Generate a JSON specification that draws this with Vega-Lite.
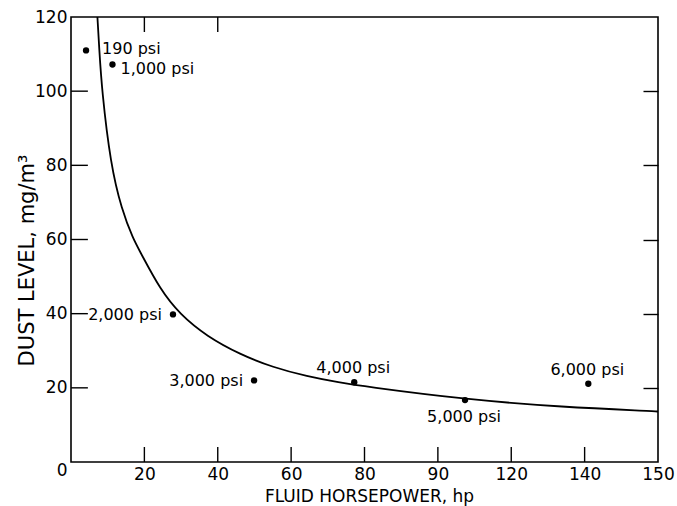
{
  "$schema": "https://vega.github.io/schema/vega-lite/v6.json",
  "autosize": {"type": "none"},
  "padding": {"left": 71, "top": 17, "right": 19, "bottom": 44},
  "width": 587,
  "height": 445,
  "background": "white",
  "config": {
    "view": {"stroke": "black", "strokeWidth": 1.6},
    "font": "DejaVu Sans",
    "axis": {"domain": false, "grid": false, "labelColor": "black", "titleColor": "black", "labelFont": "DejaVu Sans", "titleFont": "DejaVu Sans", "titleFontWeight": "normal"}
  },
  "datasets": {
    "curve": [
      {"hp": 7.2, "dust": 120},
      {"hp": 7.7, "dust": 111.4},
      {"hp": 8.4, "dust": 100.4},
      {"hp": 10.8, "dust": 80.2},
      {"hp": 13.8, "dust": 68.1},
      {"hp": 17.0, "dust": 60.0},
      {"hp": 18.8, "dust": 56.8},
      {"hp": 24.3, "dust": 46.5},
      {"hp": 29.7, "dust": 39.8},
      {"hp": 37.0, "dust": 33.9},
      {"hp": 46.1, "dust": 29.0},
      {"hp": 55.1, "dust": 25.5},
      {"hp": 64.3, "dust": 23.1},
      {"hp": 73.3, "dust": 21.4},
      {"hp": 79.7, "dust": 20.4},
      {"hp": 107.0, "dust": 16.9},
      {"hp": 134.2, "dust": 14.8},
      {"hp": 158.8, "dust": 13.7},
      {"hp": 160, "dust": 13.6}
    ],
    "points": [
      {"hp": 4.1, "dust": 111.0, "label": "190 psi"},
      {"hp": 11.3, "dust": 107.2, "label": "1,000 psi"},
      {"hp": 27.8, "dust": 39.8, "label": "2,000 psi"},
      {"hp": 49.9, "dust": 22.0, "label": "3,000 psi"},
      {"hp": 77.2, "dust": 21.5, "label": "4,000 psi"},
      {"hp": 107.4, "dust": 16.7, "label": "5,000 psi"},
      {"hp": 141.0, "dust": 21.1, "label": "6,000 psi"}
    ],
    "xticks": [{"hp": 20}, {"hp": 40}, {"hp": 60}, {"hp": 80}, {"hp": 100}, {"hp": 120}, {"hp": 140}],
    "topticks": [{"hp": 20}, {"hp": 40}],
    "yticks": [{"dust": 20}, {"dust": 40}, {"dust": 60}, {"dust": 80}, {"dust": 100}]
  },
  "layer": [
    {
      "data": {"name": "curve"},
      "mark": {"type": "line", "color": "black", "strokeWidth": 1.8, "interpolate": "basis", "clip": true},
      "encoding": {
        "x": {"field": "hp", "type": "quantitative", "scale": {"domain": [0, 160], "nice": false, "zero": false},
          "axis": {"orient": "bottom", "values": [20, 40, 60, 80, 100, 120, 140, 160], "ticks": false, "labelPadding": 4, "labelFontSize": 17, "labelFlush": false,
            "labelExpr": "datum.value == 100 ? '90' : datum.value == 160 ? '150' : datum.label",
            "title": "FLUID HORSEPOWER, hp", "titleFontSize": 17, "titleX": 298, "titleY": 34, "titleBaseline": "middle", "titleAnchor": "middle"}},
        "y": {"field": "dust", "type": "quantitative", "scale": {"domain": [0, 120], "nice": false},
          "axis": {"orient": "left", "values": [0, 20, 40, 60, 80, 100, 120], "ticks": false, "labelPadding": 4, "labelFontSize": 17, "labelFlush": false,
            "labelOffset": {"condition": {"test": "datum.value === 0", "value": 8}, "value": 0},
            "title": "DUST LEVEL,  mg/m³", "titleFontSize": 21, "titleX": -44, "titleY": 243, "titleBaseline": "middle", "titleAngle": -90, "titleAnchor": "middle"}}
      }
    },
    {
      "data": {"name": "points"},
      "mark": {"type": "circle", "color": "black", "opacity": 1, "size": 40},
      "encoding": {
        "x": {"field": "hp", "type": "quantitative", "axis": null},
        "y": {"field": "dust", "type": "quantitative",
          "axis": {"orient": "right", "values": [20, 40, 60, 80, 100], "ticks": true, "tickSize": -15, "tickColor": "black", "tickWidth": 1.4, "labels": false, "title": null}}
      }
    },
    {
      "data": {"name": "xticks"},
      "mark": {"type": "rule", "color": "black", "strokeWidth": 1.4},
      "encoding": {
        "x": {"field": "hp", "type": "quantitative", "axis": null},
        "y": {"datum": 0, "type": "quantitative", "axis": null},
        "y2": {"datum": 4.05}
      }
    },
    {
      "data": {"name": "topticks"},
      "mark": {"type": "rule", "color": "black", "strokeWidth": 1.4},
      "encoding": {
        "x": {"field": "hp", "type": "quantitative", "axis": null},
        "y": {"datum": 120, "type": "quantitative", "axis": null},
        "y2": {"datum": 115.95}
      }
    },
    {
      "data": {"name": "yticks"},
      "mark": {"type": "rule", "color": "black", "strokeWidth": 1.4},
      "encoding": {
        "y": {"field": "dust", "type": "quantitative", "axis": null},
        "x": {"datum": 0, "type": "quantitative", "axis": null},
        "x2": {"datum": 4.6}
      }
    },
    {
      "data": {"name": "points"},
      "transform": [{"filter": {"field": "label", "equal": "190 psi"}}],
      "mark": {"type": "text", "align": "left", "baseline": "middle", "dx": 16, "dy": -1, "fontSize": 16, "color": "black"},
      "encoding": {"x": {"field": "hp", "type": "quantitative", "axis": null}, "y": {"field": "dust", "type": "quantitative", "axis": null}, "text": {"field": "label"}}
    },
    {
      "data": {"name": "points"},
      "transform": [{"filter": {"field": "label", "equal": "1,000 psi"}}],
      "mark": {"type": "text", "align": "left", "baseline": "middle", "dx": 8, "dy": 5, "fontSize": 16, "color": "black"},
      "encoding": {"x": {"field": "hp", "type": "quantitative", "axis": null}, "y": {"field": "dust", "type": "quantitative", "axis": null}, "text": {"field": "label"}}
    },
    {
      "data": {"name": "points"},
      "transform": [{"filter": {"field": "label", "oneOf": ["2,000 psi", "3,000 psi"]}}],
      "mark": {"type": "text", "align": "right", "baseline": "middle", "dx": -11, "dy": 1, "fontSize": 16, "color": "black"},
      "encoding": {"x": {"field": "hp", "type": "quantitative", "axis": null}, "y": {"field": "dust", "type": "quantitative", "axis": null}, "text": {"field": "label"}}
    },
    {
      "data": {"name": "points"},
      "transform": [{"filter": {"field": "label", "oneOf": ["4,000 psi", "6,000 psi"]}}],
      "mark": {"type": "text", "align": "center", "baseline": "middle", "dx": -1, "dy": -14, "fontSize": 16, "color": "black"},
      "encoding": {"x": {"field": "hp", "type": "quantitative", "axis": null}, "y": {"field": "dust", "type": "quantitative", "axis": null}, "text": {"field": "label"}}
    },
    {
      "data": {"name": "points"},
      "transform": [{"filter": {"field": "label", "equal": "5,000 psi"}}],
      "mark": {"type": "text", "align": "center", "baseline": "middle", "dx": -1, "dy": 17, "fontSize": 16, "color": "black"},
      "encoding": {"x": {"field": "hp", "type": "quantitative", "axis": null}, "y": {"field": "dust", "type": "quantitative", "axis": null}, "text": {"field": "label"}}
    }
  ],
  "resolve": {"axis": {"x": "independent", "y": "independent"}}
}
